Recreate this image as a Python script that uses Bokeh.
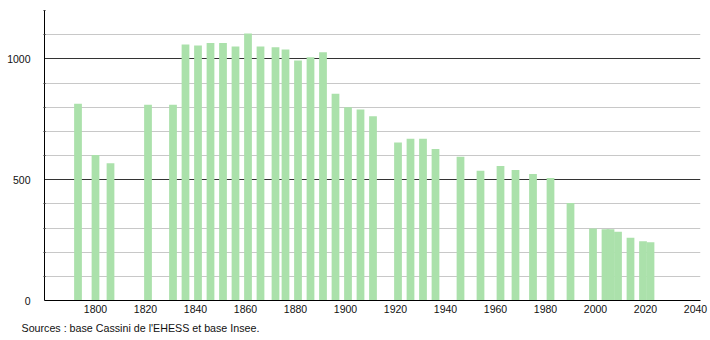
from bokeh.plotting import figure
from bokeh.models import ColumnDataSource, FixedTicker, Grid, Title, Range1d
from bokeh.embed import file_html
from bokeh.resources import INLINE

years = [1793, 1800, 1806, 1821, 1831, 1836, 1841, 1846, 1851, 1856, 1861, 1866,
         1872, 1876, 1881, 1886, 1891, 1896, 1901, 1906, 1911, 1921, 1926, 1931,
         1936, 1946, 1954, 1962, 1968, 1975, 1982, 1990, 1999, 2004, 2006, 2009,
         2014, 2019, 2022]
population = [814, 602, 568, 810, 810, 1059, 1055, 1066, 1066, 1051, 1105, 1051,
              1048, 1039, 993, 1007, 1027, 856, 800, 790, 762, 654, 669, 669,
              627, 595, 537, 557, 540, 523, 507, 403, 298, 295, 295, 284,
              260, 245, 241]
x_ticks = [1800, 1820, 1840, 1860, 1880, 1900, 1920, 1940, 1960, 1980, 2000, 2020, 2040]
y_major = [0, 500, 1000]
y_minor = [100, 200, 300, 400, 600, 700, 800, 900, 1100, 1200]
source_text = "Sources : base Cassini de l'EHESS et base Insee."

FONT = "Liberation Sans"

p = figure(width=710, height=340, output_backend="svg", toolbar_location=None,
           x_range=Range1d(1779.6, 2042), y_range=Range1d(0, 1200),
           min_border_left=44, min_border_right=10, min_border_top=10,
           min_border_bottom=40)
p.outline_line_color = None
p.background_fill_color = "white"
p.border_fill_color = "white"

src = ColumnDataSource(dict(year=years, pop=population))
p.vbar(x="year", top="pop", width=3.1, source=src,
       fill_color="#abe1ab", line_color=None)

# grids
p.xgrid.visible = False
p.ygrid.ticker = FixedTicker(ticks=y_minor)
p.ygrid.grid_line_color = "#c8c8c8"
p.ygrid.grid_line_width = 1
dark = Grid(dimension=1, ticker=FixedTicker(ticks=[500, 1000]),
            grid_line_color="#333333", grid_line_width=1)
p.add_layout(dark)

# x axis
p.xaxis.ticker = FixedTicker(ticks=x_ticks)
p.xaxis.major_tick_in = 0
p.xaxis.major_tick_out = 0
p.xaxis.minor_tick_in = 0
p.xaxis.minor_tick_out = 0
p.xaxis.major_tick_line_color = None
p.xaxis.minor_tick_line_color = None
p.xaxis.axis_line_color = "black"
p.xaxis.major_label_standoff = 4
p.xaxis.major_label_text_font = FONT
p.xaxis.major_label_text_font_size = "10.5px"
p.xaxis.major_label_text_color = "#111111"

# y axis
p.yaxis.ticker = FixedTicker(ticks=y_major, minor_ticks=y_minor)
p.yaxis.major_tick_in = 0
p.yaxis.major_tick_out = 0
p.yaxis.minor_tick_in = 1
p.yaxis.minor_tick_out = 1
p.yaxis.minor_tick_line_color = "#333333"
p.yaxis.axis_line_color = "black"
p.yaxis.major_label_standoff = 13
p.yaxis.major_label_text_font = FONT
p.yaxis.major_label_text_font_size = "10.5px"
p.yaxis.major_label_text_color = "#111111"

src_title = Title(text=source_text, align="left", offset=-23, standoff=8,
                  text_font=FONT, text_font_size="10.7px",
                  text_font_style="normal", text_color="#111111")
p.add_layout(src_title, "below")

open("out.html", "w").write(file_html(p, INLINE))
